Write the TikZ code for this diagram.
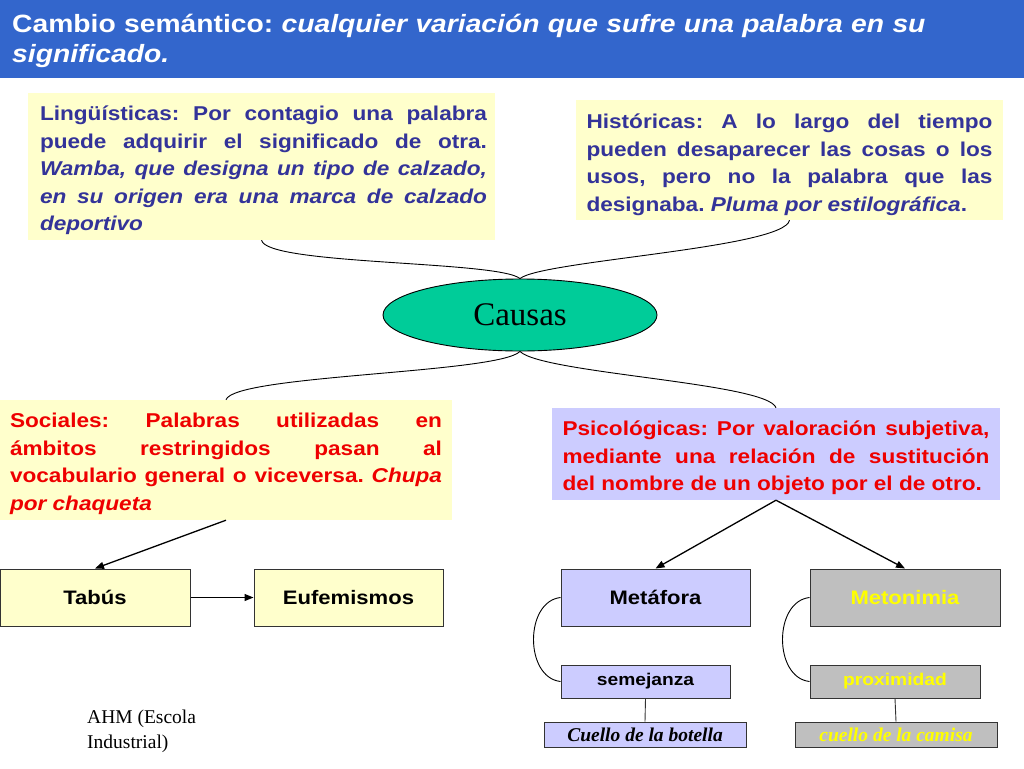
\documentclass[tikz,border=0pt]{standalone}
\usepackage{fontspec}
\newfontfamily\arialx{Liberation Sans}[FakeStretch=1.13]
\newfontfamily\timesx{Liberation Serif}
\usetikzlibrary{arrows.meta,shapes.geometric,calc}
\definecolor{titleblue}{HTML}{3366CC}
\definecolor{lightyel}{HTML}{FFFFCC}
\definecolor{txtblue}{HTML}{333399}
\definecolor{txtred}{HTML}{EE0000}
\definecolor{lavender}{HTML}{CCCCFF}
\definecolor{causegreen}{HTML}{00CC99}
\definecolor{boxgray}{HTML}{BFBFBF}
\definecolor{txtyel}{HTML}{FFFF00}
\frenchspacing
\begin{document}
\begin{tikzpicture}[x=1pt,y=-1pt,
  bgbox/.style={rectangle, inner sep=0pt},
  txtbox/.style={rectangle, inner sep=0pt, align=justify,
    font={\arialx\bfseries\fontsize{20}{27.5}\selectfont\tolerance=10000\frenchspacing}},
  smallbox/.style={rectangle, draw=black!80, line width=1pt, inner sep=0pt,
    font={\arialx\bfseries\fontsize{19.5}{22}\selectfont}},
  tinybox/.style={rectangle, draw=black!80, line width=1pt, inner sep=0pt,
    font={\arialx\bfseries\fontsize{17}{20}\selectfont}},
  exbox/.style={rectangle, draw=black!80, line width=1pt, inner sep=0pt,
    font={\timesx\bfseries\itshape\fontsize{19.5}{22}\selectfont}},
  curve/.style={draw=black, line width=0.9pt},
  arr/.style={draw=black, line width=1.3pt, -{Triangle[length=9pt,width=7pt]}},
  thinline/.style={draw=black!80, line width=0.9pt}
]
\useasboundingbox (0,0) rectangle (1024,768);
\fill[white] (0,0) rectangle (1024,768);
% title bar
\fill[titleblue] (0,0) rectangle (1024,78);
\node[anchor=north west, inner sep=0pt, text width=1005pt, align=left, text=white,
  font={\arialx\bfseries\fontsize{25}{30}\selectfont\frenchspacing}] (title) at (12,14)
  {Cambio semántico: \textit{cualquier variación que sufre una palabra en su}\\\textit{significado.}};

% text box backgrounds
\node[bgbox, fill=lightyel, minimum width=467pt, minimum height=147pt] (ling) at (261.5,166.5) {};
\node[bgbox, fill=lightyel, minimum width=427pt, minimum height=120pt] (hist) at (789.5,160) {};
\node[bgbox, fill=lightyel, minimum width=452pt, minimum height=120pt] (soc) at (226,460) {};
\node[bgbox, fill=lavender, minimum width=448pt, minimum height=92pt] (psi) at (776,454) {};

% text box contents
\node[txtbox, text=txtblue, text width=447pt] (lingtxt) at ($(ling.center)+(2,4)$)
  {Lingüísticas: Por contagio una palabra \linebreak puede adquirir el significado de otra. \linebreak \textit{Wamba, que designa un tipo de calzado, \linebreak en su origen era una marca de calzado \linebreak deportivo}};
\node[txtbox, text=txtblue, text width=406pt] (histtxt) at ($(hist.center)+(0,5)$)
  {Históricas: A lo largo del tiempo \linebreak pueden desaparecer las cosas o los \linebreak usos, pero no la palabra que las \linebreak designaba. \textit{Pluma por estilográfica}.};
\node[txtbox, text=txtred, text width=432pt] (soctxt) at ($(soc.center)+(0,4)$)
  {Sociales: Palabras utilizadas en \linebreak ámbitos restringidos pasan al \linebreak vocabulario general o viceversa. \textit{Chupa \linebreak por chaqueta}};
\node[txtbox, text=txtred, text width=427pt] (psitxt) at ($(psi.center)+(0,4)$)
  {Psicológicas: Por valoración subjetiva, \linebreak mediante una relación de sustitución \linebreak del nombre de un objeto por el de otro.};

% central ellipse
\node[ellipse, draw=black, line width=0.9pt, fill=causegreen, minimum width=274pt,
  minimum height=72pt, inner sep=0pt, font={\timesx\fontsize{33}{36}\selectfont}]
  (causas) at (520,315) {Causas};

% small boxes
\node[smallbox, fill=lightyel, minimum width=190pt, minimum height=57pt] (tabus) at (95,597.5) {Tabús};
\node[smallbox, fill=lightyel, minimum width=189pt, minimum height=57pt] (euf) at (348.5,597.5) {Eufemismos};
\node[smallbox, fill=lavender, minimum width=189pt, minimum height=57pt] (met) at (655.5,597.5) {Metáfora};
\node[smallbox, fill=boxgray, text=txtyel, minimum width=190pt, minimum height=57pt] (meto) at (905,597.5) {Metonimia};
\node[tinybox, fill=lavender, minimum width=169pt, minimum height=33pt] (sem) at (645.5,681.5) {semejanza};
\node[tinybox, fill=boxgray, text=txtyel, minimum width=170pt, minimum height=33pt] (prox) at (895,681.5) {proximidad};
\node[exbox, fill=lavender, minimum width=202pt, minimum height=25pt] (bot) at (645,734.5) {Cuello de la botella};
\node[exbox, fill=boxgray, text=txtyel, minimum width=202pt, minimum height=25pt] (cam) at (896,734.5) {cuello de la camisa};

% author note
\node[anchor=north west, inner sep=0pt, align=left,
  font={\timesx\fontsize{19.5}{25}\selectfont}] (ahm) at (87,710)
  {AHM (Escola\\Industrial)};

% curved connectors
\draw[curve] (ling.south) .. controls +(5,25) and +(-22,-18) .. (causas.north);
\draw[curve] (hist.south) .. controls +(-5,28) and +(22,-18) .. (causas.north);
\draw[curve] (causas.south) .. controls +(-22,22) and +(8,-25) .. (soc.north);
\draw[curve] (causas.south) .. controls +(22,22) and +(-8,-25) .. (psi.north);

% arrows
\draw[arr] (soc.south) -- (tabus.north);
\draw[arr] (tabus.east) -- (euf.west);
\draw[arr] (psi.south) -- (met.north);
\draw[arr] (psi.south) -- (meto.north);

% side arcs
\draw[curve] (met.west) .. controls +(-36,4) and +(-36,-4) .. (sem.west);
\draw[curve] (meto.west) .. controls +(-36,4) and +(-36,-4) .. (prox.west);

% vertical links
\draw[thinline] (sem.south) -- (bot.north);
\draw[thinline] (prox.south) -- (cam.north);
\end{tikzpicture}
\end{document}
